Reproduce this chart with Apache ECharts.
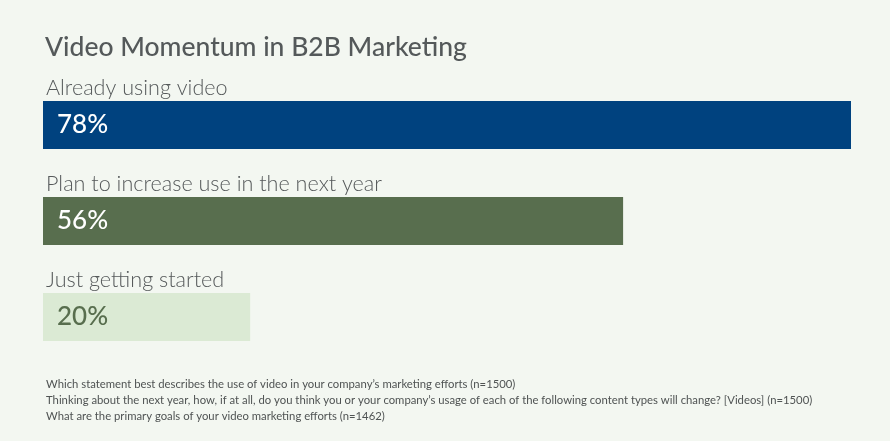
<!DOCTYPE html>
<html><head><meta charset="utf-8">
<script src="https://cdn.jsdelivr.net/npm/echarts@6/dist/echarts.min.js"></script>
<style>html,body{margin:0;padding:0;background:#f3f7f1}#c{width:890px;height:441px}</style>
</head><body><div id="c"></div>
<script>
const categories = ["Already using video", "Plan to increase use in the next year", "Just getting started"];
const values = [78, 56, 20];
const barColors = ["#00427f", "#586e4e", "#dbead4"];
const labelColors = ["#ffffff", "#ffffff", "#586e4e"];
const titleText = "Video Momentum in B2B Marketing";
const footnotes = [
  "Which statement best describes the use of video in your company\u2019s marketing efforts (n=1500)",
  "Thinking about the next year, how, if at all, do you think you or your company\u2019s usage of each of the following content types will change? [Videos] (n=1500)",
  "What are the primary goals of your video marketing efforts (n=1462)"
];
const FONT = "Lato, 'Open Sans', sans-serif";
const chart = echarts.init(document.getElementById('c'));
chart.setOption({
  backgroundColor: '#f3f7f1',
  animation: false,
  title: {
    text: titleText, left: 45, top: 34, padding: 0,
    textStyle: {fontFamily: FONT, fontSize: 26.5, fontWeight: 500, color: '#54595a'}
  },
  grid: {left: 43, right: 39, top: 77, height: 288},
  xAxis: {type: 'value', min: 0, max: Math.max(...values), show: false},
  yAxis: {
    type: 'category', data: categories, inverse: true,
    axisLine: {show: false}, axisTick: {show: false},
    axisLabel: {
      inside: true, align: 'left', margin: 3, verticalAlign: 'bottom',
      padding: [0, 0, 26, 0],
      fontFamily: FONT, fontSize: 21.6, fontWeight: 300, color: '#55595a'
    }
  },
  series: [{
    type: 'bar', barWidth: 48,
    data: values.map((v, i) => ({value: v, itemStyle: {color: barColors[i]},
      label: {color: labelColors[i]}})),
    label: {
      show: true, position: 'insideLeft', distance: 14,
      formatter: p => p.value + '%',
      fontFamily: FONT, fontSize: 26, fontWeight: 500
    }
  }],
  graphic: footnotes.map((t, i) => ({
    type: 'text', left: 46, top: 379 + i * 16,
    style: {text: t, fontFamily: FONT, fontSize: 11.3, fill: '#4f5353'}
  }))
});
</script></body></html>
